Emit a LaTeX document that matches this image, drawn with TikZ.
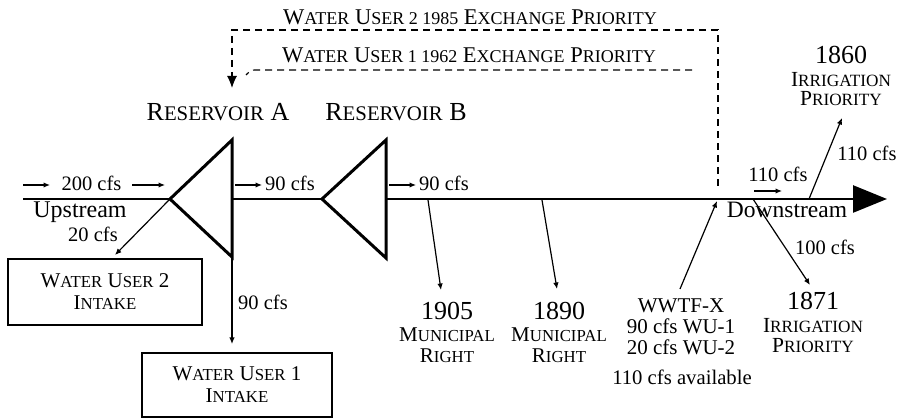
\documentclass[tikz,border=0pt]{standalone}
\usepackage{fontspec}
\setmainfont{Liberation Serif}
\usetikzlibrary{arrows.meta}
\makeatletter
\newcommand\lc[1]{{\fontsize{\strip@pt\dimexpr0.8\dimexpr\f@size pt\relax\relax}{0}\selectfont #1}}
\makeatother
\newcommand\fs[1]{\fontsize{#1}{#1}\selectfont}
\begin{document}
\begin{tikzpicture}[x=1pt,y=-1pt,
  river/.style={line width=2.6pt},
  res/.style={line width=3pt, line join=miter},
  flow/.style={line width=1.2pt, -{Latex[length=6.5pt,width=5.5pt]}},
  exch/.style={line width=1.1pt, dash pattern=on 7pt off 5pt},
  box/.style={draw, line width=2pt, align=center, inner sep=0pt},
  txt/.style={inner sep=0pt, align=center},
  cfs/.style={txt, font=\fs{20.5}}]
\useasboundingbox (0,0) rectangle (900,419);
% river and reservoirs
\coordinate (up) at (23,199);
\coordinate (aL) at (170,199); \coordinate (aT) at (232,140);
\coordinate (aB) at (232,257); \coordinate (aR) at (232,199);
\coordinate (bL) at (322,199); \coordinate (bT) at (386,140);
\coordinate (bB) at (386,258); \coordinate (bR) at (386,199);
\coordinate (dn) at (887,199);
\draw[river] (up) -- (aL);
\draw[river] (aR) -- (bL);
\draw[river, -{Triangle[length=34pt,width=27pt]}] (bR) -- (dn);
\draw[res] (aL) -- (aT) -- (aB) -- cycle;
\draw[res] (bL) -- (bT) -- (bB) -- cycle;
\node[txt, font=\fs{26}, anchor=base] (resA) at (218,121) {R\lc{ESERVOIR} A};
\node[txt, font=\fs{26}, anchor=base] (resB) at (396,121) {R\lc{ESERVOIR} B};
% exchange priorities
\node[txt, font=\fs{22.5}, anchor=base] (ex2) at (470,25) {W\lc{ATER} U\lc{SER 2 1985} E\lc{XCHANGE} P\lc{RIORITY}};
\node[txt, font=\fs{22.5}, anchor=base] (ex1) at (469,63) {W\lc{ATER} U\lc{SER 1 1962} E\lc{XCHANGE} P\lc{RIORITY}};
\coordinate (d1) at (232,30); \coordinate (d2) at (718,30);
\coordinate (d3) at (718,186); \coordinate (dA) at (232,88);
\draw[exch, -{Latex[length=12pt,width=10pt]}] (d3) -- (d2) -- (d1) -- (dA);
\coordinate (e1) at (692,70); \coordinate (e2) at (256,70); \coordinate (e3) at (246,75);
\draw[exch] (e1) -- (e2) .. controls (251,70) .. (e3);
% flows
\node[cfs, anchor=base] (f200) at (91.5,191) {200 cfs};
\coordinate (i1) at (23,185); \coordinate (i2) at (50,185);
\coordinate (i3) at (132,185); \coordinate (i4) at (165,185);
\draw[flow] (i1) -- (i2);
\draw[flow] (i3) -- (i4);
\node[cfs, anchor=base west] (f90a) at (265,191) {90 cfs};
\coordinate (j1) at (235,185); \coordinate (j2) at (262,185);
\draw[flow] (j1) -- (j2);
\node[cfs, anchor=base west] (f90b) at (419,191) {90 cfs};
\coordinate (k1) at (389,185); \coordinate (k2) at (416,185);
\draw[flow] (k1) -- (k2);
\node[txt, font=\fs{24}, anchor=base] (upl) at (80,218) {Upstream};
\node[txt, font=\fs{23.5}, anchor=base] (dnl) at (787,218) {Downstream};
% water users
\node[box, minimum width=194pt, minimum height=66pt, font=\fs{21}] (wu2) at (105,292) {W\lc{ATER} U\lc{SER} 2\\[1pt]I\lc{NTAKE}};
\node[box, minimum width=190pt, minimum height=64pt, font=\fs{21}] (wu1) at (237,385) {W\lc{ATER} U\lc{SER} 1\\[1pt]I\lc{NTAKE}};
\coordinate (w2a) at (115,255);
\draw[flow] (aL) -- (w2a);
\node[cfs, anchor=base] (f20) at (93,242) {20 cfs};
\draw[flow, shorten >=8pt] (aB) -- (aB |- wu1.north);
\node[cfs, anchor=base west] (f90c) at (238,310) {90 cfs};
% municipal rights
\coordinate (m1a) at (428,200); \coordinate (m1b) at (441,290);
\draw[flow] (m1a) -- (m1b);
\node[txt, font=\fs{21}, anchor=base] (r1905) at (447,363) {{\fs{26}1905}\\[1pt]M\lc{UNICIPAL}\\[0pt]R\lc{IGHT}};
\coordinate (m2a) at (542,200); \coordinate (m2b) at (557,289);
\draw[flow] (m2a) -- (m2b);
\node[txt, font=\fs{21}, anchor=base] (r1890) at (559,363) {{\fs{26}1890}\\[1pt]M\lc{UNICIPAL}\\[0pt]R\lc{IGHT}};
% WWTF
\coordinate (wwa) at (680,289); \coordinate (wwb) at (717,201);
\draw[flow] (wwa) -- (wwb);
\node[txt, font=\fs{21}, anchor=base] (wwtf) at (681,355) {WWTF-X\\[0pt]90 cfs WU-1\\[0pt]20 cfs WU-2};
\node[txt, font=\fs{20.7}, anchor=base] (avail) at (682,385) {110 cfs available};
% irrigation
\coordinate (i71a) at (753,199); \coordinate (i71b) at (810,285);
\draw[flow] (i71a) -- (i71b);
\node[cfs, anchor=base] (f100) at (825,255) {100 cfs};
\node[txt, font=\fs{21.5}, anchor=base] (r1871) at (813,353) {{\fs{26}1871}\\[1.5pt]I\lc{RRIGATION}\\[-1.5pt]P\lc{RIORITY}};
\coordinate (i60a) at (809,199); \coordinate (i60b) at (842,118);
\draw[flow] (i60a) -- (i60b);
\node[cfs, anchor=base] (f110b) at (867,161) {110 cfs};
\node[txt, font=\fs{21.5}, anchor=base] (r1860) at (841,106) {{\fs{26}1860}\\[1pt]I\lc{RRIGATION}\\[-2pt]P\lc{RIORITY}};
\node[cfs, anchor=base] (f110a) at (778,182) {110 cfs};
\coordinate (s1) at (754,191); \coordinate (s2) at (782,191);
\draw[flow] (s1) -- (s2);
\end{tikzpicture}
\end{document}
